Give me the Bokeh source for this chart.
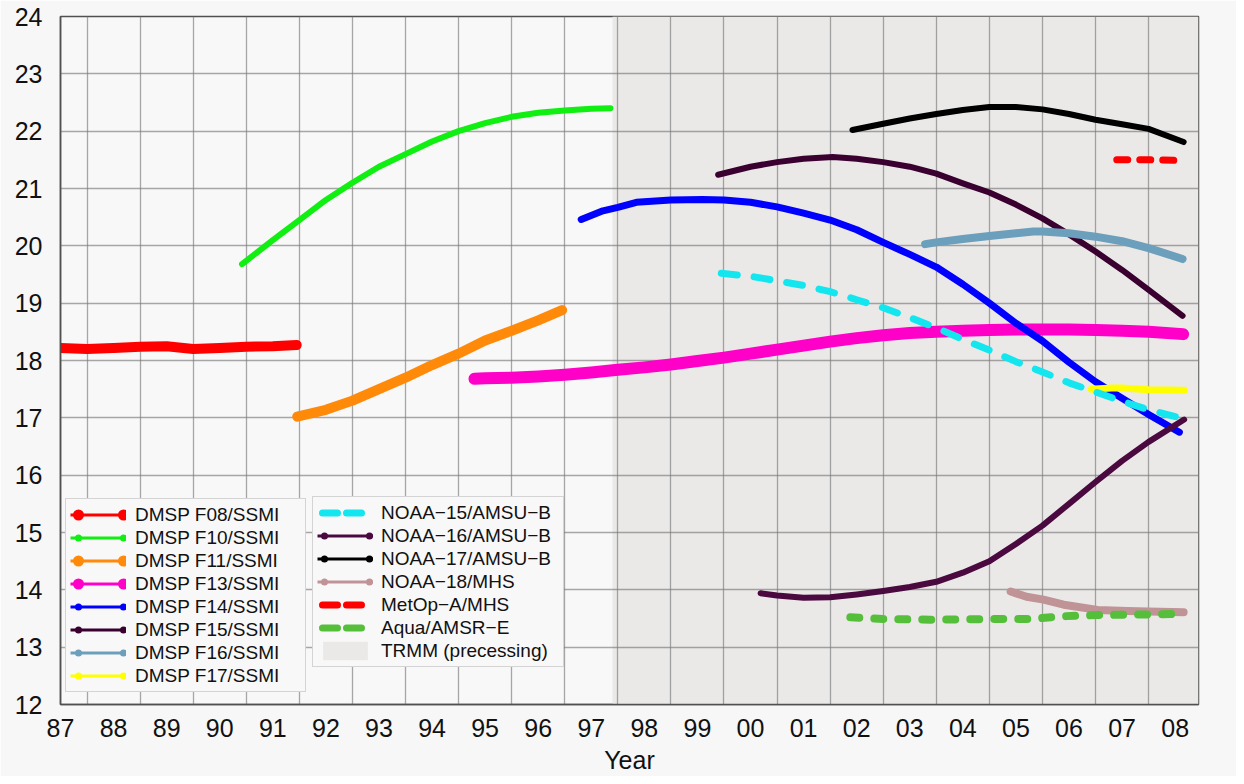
from bokeh.plotting import figure
from bokeh.models import Legend, LegendItem, FixedTicker, Range1d
from bokeh.embed import file_html
from bokeh.resources import INLINE

# ---------------- data (decimal year, value) ----------------
f08_year = [1987.5, 1988.0, 1988.5, 1989.0, 1989.5, 1990.0, 1990.5, 1991.0, 1991.5, 1991.95]
f08_val = [18.22, 18.20, 18.22, 18.24, 18.25, 18.20, 18.22, 18.24, 18.25, 18.27]

f10_year = [1990.92, 1991.5, 1992.0, 1992.5, 1993.0, 1993.5, 1994.0, 1994.5, 1995.0,
            1995.5, 1996.0, 1996.5, 1997.0, 1997.5, 1997.86]
f10_val = [19.68, 20.10, 20.45, 20.80, 21.10, 21.38, 21.60, 21.82, 22.00,
           22.14, 22.25, 22.32, 22.36, 22.39, 22.40]

f11_year = [1991.96, 1992.5, 1993.0, 1993.5, 1994.0, 1994.5, 1995.0, 1995.5, 1996.0, 1996.5, 1996.95]
f11_val = [17.02, 17.14, 17.30, 17.50, 17.70, 17.92, 18.12, 18.35, 18.52, 18.70, 18.88]

f13_year = [1995.3, 1995.5, 1996.0, 1996.5, 1997.0, 1997.5, 1998.0, 1998.5, 1999.0, 1999.5,
            2000.0, 2000.5, 2001.0, 2001.5, 2002.0, 2002.5, 2003.0, 2003.5, 2004.0, 2004.5,
            2005.0, 2005.5, 2006.0, 2006.5, 2007.0, 2007.5, 2008.0, 2008.65]
f13_val = [17.68, 17.69, 17.70, 17.72, 17.75, 17.79, 17.84, 17.88, 17.93, 17.99,
           18.05, 18.12, 18.19, 18.26, 18.33, 18.39, 18.44, 18.48, 18.50, 18.52,
           18.53, 18.54, 18.54, 18.54, 18.53, 18.52, 18.50, 18.46]

f14_year = [1997.31, 1997.72, 1998.0, 1998.35, 1999.0, 1999.6, 2000.0, 2000.5, 2001.0, 2001.5,
            2002.0, 2002.5, 2003.0, 2003.5, 2004.0, 2004.5, 2005.0, 2005.5, 2006.0, 2006.5,
            2007.0, 2007.5, 2008.0, 2008.58]
f14_val = [20.46, 20.61, 20.67, 20.76, 20.80, 20.81, 20.80, 20.76, 20.68, 20.57,
           20.45, 20.28, 20.06, 19.85, 19.63, 19.33, 19.00, 18.65, 18.34, 17.97,
           17.63, 17.34, 17.06, 16.75]

f15_year = [1999.89, 2000.5, 2001.0, 2001.5, 2002.05, 2002.5, 2003.0, 2003.5, 2004.0, 2004.5,
            2005.0, 2005.5, 2006.0, 2006.5, 2007.0, 2007.5, 2008.0, 2008.64]
f15_val = [21.24, 21.38, 21.46, 21.52, 21.55, 21.52, 21.46, 21.38, 21.26, 21.09,
           20.93, 20.72, 20.48, 20.20, 19.90, 19.58, 19.23, 18.78]

f16_year = [2003.79, 2004.0, 2004.5, 2005.0, 2005.5, 2005.83, 2006.0, 2006.5, 2007.0, 2007.5, 2008.0, 2008.64]
f16_val = [20.03, 20.06, 20.12, 20.17, 20.22, 20.25, 20.25, 20.22, 20.16, 20.08, 19.96, 19.77]

f17_year = [2006.92, 2007.3, 2007.5, 2008.0, 2008.67]
f17_val = [17.50, 17.52, 17.52, 17.49, 17.48]

n15_year = [1999.95, 2000.5, 2001.0, 2001.5, 2002.0, 2002.5, 2003.0, 2003.5, 2004.0, 2004.5,
            2005.0, 2005.5, 2006.0, 2006.5, 2007.0, 2007.5, 2008.0, 2008.6]
n15_val = [19.52, 19.47, 19.39, 19.31, 19.20, 19.06, 18.92, 18.75, 18.57, 18.37,
           18.18, 17.98, 17.80, 17.61, 17.45, 17.29, 17.14, 17.00]

n16_year = [2000.69, 2001.0, 2001.5, 2002.0, 2002.5, 2003.0, 2003.5, 2004.0, 2004.5, 2005.0,
            2005.5, 2006.0, 2006.5, 2007.0, 2007.5, 2008.0, 2008.67]
n16_val = [13.94, 13.90, 13.86, 13.87, 13.92, 13.98, 14.05, 14.14, 14.30, 14.50,
           14.80, 15.12, 15.50, 15.88, 16.25, 16.58, 16.97]

n17_year = [2002.42, 2003.0, 2003.5, 2004.0, 2004.5, 2005.0, 2005.5, 2006.0, 2006.5, 2007.0,
            2007.5, 2008.0, 2008.66]
n17_val = [22.02, 22.13, 22.22, 22.30, 22.37, 22.42, 22.42, 22.38, 22.30, 22.20,
           22.12, 22.04, 21.81]

n18_year = [2005.4, 2005.7, 2006.02, 2006.4, 2007.04, 2007.6, 2008.0, 2008.66]
n18_val = [13.97, 13.88, 13.83, 13.74, 13.65, 13.63, 13.62, 13.61]

metop_year = [2007.4, 2008.0, 2008.57]
metop_val = [21.50, 21.50, 21.49]

aqua_year = [2002.38, 2003.0, 2003.89, 2005.0, 2005.78, 2006.4, 2007.04, 2008.66]
aqua_val = [13.52, 13.49, 13.48, 13.49, 13.49, 13.54, 13.56, 13.58]

trmm_start = 1997.9

x_start, x_end = 1987.5, 2008.94
y_start, y_end = 12, 24
year_ticks = [y + 0.5 for y in range(1987, 2009)]
year_labels = ["%02d" % (y % 100) for y in range(1987, 2009)]
value_ticks = list(range(12, 25))

FONT = "Liberation Sans"

p = figure(width=1236, height=776, output_backend="svg", toolbar_location=None,
           x_range=Range1d(x_start, x_end), y_range=Range1d(y_start, y_end),
           min_border_left=60, min_border_right=38, min_border_top=16, min_border_bottom=69,
           background_fill_color="#f8f8f8", border_fill_color="#f7f7f7")

# range used only so that legend-sample renderers stay out of sight
p.extra_x_ranges = {"legend_only": Range1d(0, 1)}

p.outline_line_color = "#505050"
p.outline_line_width = 1.5

# TRMM shaded period (under the grid)
trmm = p.quad(left=[trmm_start], right=[x_end], bottom=[y_start], top=[y_end],
              fill_color="#ebe9e8", line_color=None, level="image")

# axes
p.xaxis.ticker = FixedTicker(ticks=year_ticks)
p.xaxis.major_label_overrides = {t: l for t, l in zip(year_ticks, year_labels)}
p.yaxis.ticker = FixedTicker(ticks=value_ticks)
for ax in (p.xaxis[0], p.yaxis[0]):
    ax.major_tick_out = 0
    ax.major_tick_in = 0
    ax.minor_tick_out = 0
    ax.minor_tick_in = 0
    ax.axis_line_color = "#505050"
    ax.axis_line_width = 1.5
    ax.major_label_text_font = FONT
    ax.major_label_text_font_size = "25px"
    ax.major_label_text_color = "#111111"
p.xaxis.major_label_standoff = 14
p.yaxis.major_label_standoff = 18
p.xaxis.axis_label = "Year"
p.xaxis.axis_label_text_font = FONT
p.xaxis.axis_label_text_font_size = "25px"
p.xaxis.axis_label_text_font_style = "normal"
p.xaxis.axis_label_text_color = "#111111"
p.xaxis.axis_label_standoff = 6

p.xgrid.ticker = FixedTicker(ticks=list(range(1988, 2009)))
p.ygrid.ticker = FixedTicker(ticks=list(range(13, 24)))
for g in (p.xgrid[0], p.ygrid[0]):
    g.grid_line_color = "#7a7a7a"
    g.grid_line_alpha = 0.65
    g.grid_line_width = 1.3

# series: name, years, values, colour, line width, dash, legend end-dot size
series = [
    ("DMSP F08/SSMI", f08_year, f08_val, "#ff0000", 10, "solid", 11),
    ("DMSP F10/SSMI", f10_year, f10_val, "#11ee11", 6, "solid", 7),
    ("DMSP F11/SSMI", f11_year, f11_val, "#ff8a0a", 10, "solid", 11),
    ("DMSP F13/SSMI", f13_year, f13_val, "#ff00c8", 12, "solid", 11),
    ("DMSP F14/SSMI", f14_year, f14_val, "#0000ff", 7, "solid", 7),
    ("DMSP F15/SSMI", f15_year, f15_val, "#3a0030", 6, "solid", 7),
    ("DMSP F16/SSMI", f16_year, f16_val, "#6c9fbb", 8, "solid", 7),
    ("DMSP F17/SSMI", f17_year, f17_val, "#ffff00", 7, "solid", 7),
    ("NOAA\u221215/AMSU\u2212B", n15_year, n15_val, "#14e6ef", 7, "16 17", 7),
    ("NOAA\u221216/AMSU\u2212B", n16_year, n16_val, "#4a0a40", 6, "solid", 7),
    ("NOAA\u221217/AMSU\u2212B", n17_year, n17_val, "#000000", 6, "solid", 7),
    ("NOAA\u221218/MHS", n18_year, n18_val, "#c09496", 8, "solid", 7),
    ("MetOp\u2212A/MHS", metop_year, metop_val, "#ff0000", 7, "11 12", 7),
    ("Aqua/AMSR\u2212E", aqua_year, aqua_val, "#55bf3b", 8, "9 15", 7),
]

items = []
for i, (name, xs, ys, color, w, dash, dot) in enumerate(series):
    p.line(xs, ys, line_color=color, line_width=w, line_cap="round", line_join="round",
           line_dash=dash)
    # legend samples (same data, on an off-screen range so that only the legend shows them)
    dot_offset = -8 if i < 8 else -7
    if dash == "solid":
        base = p.line(xs, ys, x_range_name="legend_only", line_color=color, line_width=3)
        dots = p.line(xs, ys, x_range_name="legend_only", line_color=color, line_width=dot,
                      line_cap="round", line_dash="0 45", line_dash_offset=dot_offset)
        rs = [base, dots]
    else:
        rs = [p.line(xs, ys, x_range_name="legend_only", line_color=color, line_width=7,
                     line_cap="round", line_dash="15 9 15 40", line_dash_offset=-5)]
    items.append(LegendItem(label=name, renderers=rs))

items1 = items[:8]
items2 = items[8:] + [LegendItem(label="TRMM (precessing)", renderers=[trmm])]


def make_legend(its, loc, standoff, gw, lw):
    lg = Legend(items=its, location=loc)
    lg.background_fill_color = "#f8f8f8"
    lg.background_fill_alpha = 1.0
    lg.border_line_color = "#b0b0b0"
    lg.border_line_width = 1.5
    lg.label_text_font = FONT
    lg.label_text_font_size = "19px"
    lg.label_text_color = "#111111"
    lg.glyph_width = gw
    lg.glyph_height = 23
    lg.label_height = 23
    lg.label_width = lw
    lg.label_standoff = standoff
    lg.spacing = 0
    lg.padding = 4
    lg.margin = 0
    return lg


p.add_layout(make_legend(items1, (5, 12), 9, 56, 166))
p.add_layout(make_legend(items2, (252, 37), 8, 56, 178))

open("out.html", "w").write(file_html(p, INLINE))
